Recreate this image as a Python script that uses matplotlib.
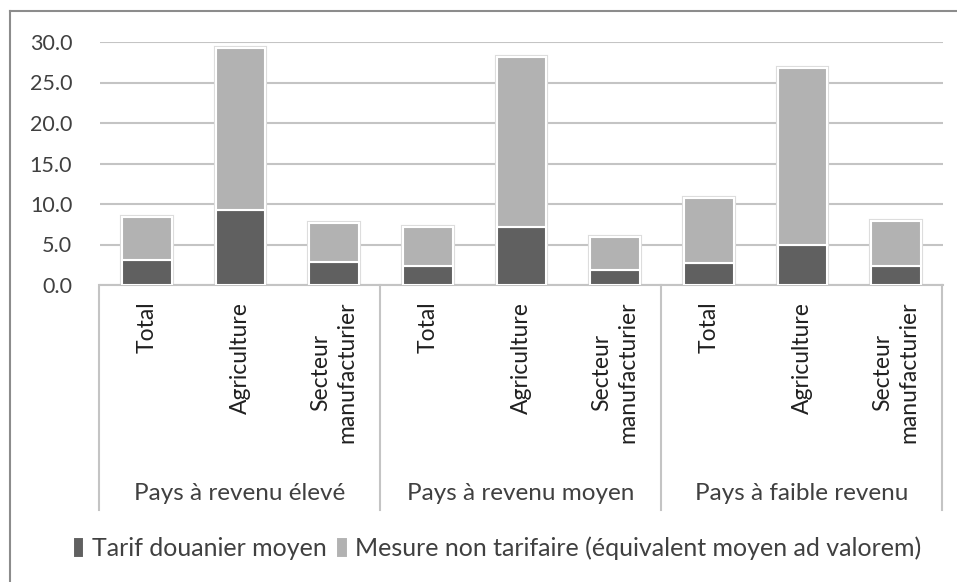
import matplotlib.pyplot as plt
from matplotlib.lines import Line2D
import numpy as np

# values (stacked: tarif + mesure non tarifaire)
groups = ['Pays à revenu élevé', 'Pays à revenu moyen', 'Pays à faible revenu']
sectors = ['Total', 'Agriculture', 'Secteur\nmanufacturier']
tarif = [3.1, 9.2, 2.8, 2.3, 7.1, 1.9, 2.7, 4.9, 2.4]
ntm = [5.3, 20.1, 4.9, 4.9, 21.0, 4.0, 8.0, 21.9, 5.5]
yticks = [0, 5, 10, 15, 20, 25, 30]
series = ['Tarif douanier moyen', 'Mesure non tarifaire (équivalent moyen ad valorem)']

plt.rcParams['font.family'] = ['Lato', 'DejaVu Sans']
txt = '#404040'
W, H = 957, 582

fig = plt.figure(figsize=(W / 100, H / 100), dpi=100)
ax = fig.add_axes([100 / W, 1 - 285 / H, 843 / W, 243 / H])

x = np.arange(len(tarif))
labels = sectors * len(groups)
tot = np.array(tarif) + np.array(ntm)

# faint halo like the excel shadow
ax.bar(x, tot, 0.53, color='none', edgecolor='#dcdcdc', linewidth=3, zorder=2)
b1 = ax.bar(x, tarif, 0.53, color='#606060', edgecolor='white', linewidth=1.5, zorder=3)
b2 = ax.bar(x, ntm, 0.53, bottom=tarif, color='#b2b2b2', edgecolor='white', linewidth=1.5, zorder=3)

ax.set_xlim(-0.5, len(x) - 0.5)
ax.set_ylim(0, 30)
ax.set_yticks(yticks)
ax.set_yticklabels(['%.1f' % v for v in yticks], fontsize=15.5, color=txt)
ax.yaxis.grid(True, color='#c4c4c4', linewidth=1.5, zorder=0)
ax.set_axisbelow(True)
for s in ['top', 'right', 'left']:
    ax.spines[s].set_visible(False)
ax.spines['bottom'].set_color('#c4c4c4')
ax.spines['bottom'].set_linewidth(1.5)
ax.tick_params(axis='y', length=0, pad=20)
ax.tick_params(axis='x', length=0, pad=12)
ax.set_xticks(x)
ax.set_xticklabels(labels, rotation=90, fontsize=16.5, color='#202020',
                   multialignment='center', linespacing=1.3)


def fline(x0, y0, x1, y1, **kw):
    fig.add_artist(Line2D([x0 / W, x1 / W], [1 - y0 / H, 1 - y1 / H], transform=fig.transFigure, **kw))


# group separators of the two-level category axis
for sx in [99, 380, 661, 942]:
    fline(sx, 285, sx, 510, color='#c4c4c4', linewidth=1.5)
for i, g in enumerate(groups):
    cx = 99 + (i + 0.5) * 281
    fig.text(cx / W, 1 - 493 / H, g, ha='center', va='center', fontsize=17.5, color=txt)

fig.legend([b1, b2], series, loc='center', bbox_to_anchor=(497 / W, 1 - 548 / H), ncol=2,
           frameon=False, fontsize=18, handlelength=0.45, handleheight=0.9,
           handletextpad=0.3, columnspacing=0.4, labelcolor=txt)

# outer chart border (cropped on right and bottom)
fline(10, 11, 957, 11, color='#8c8c8c', linewidth=1.5)
fline(10, 11, 10, 582, color='#8c8c8c', linewidth=1.5)

fig.savefig('out.png', dpi=100)
